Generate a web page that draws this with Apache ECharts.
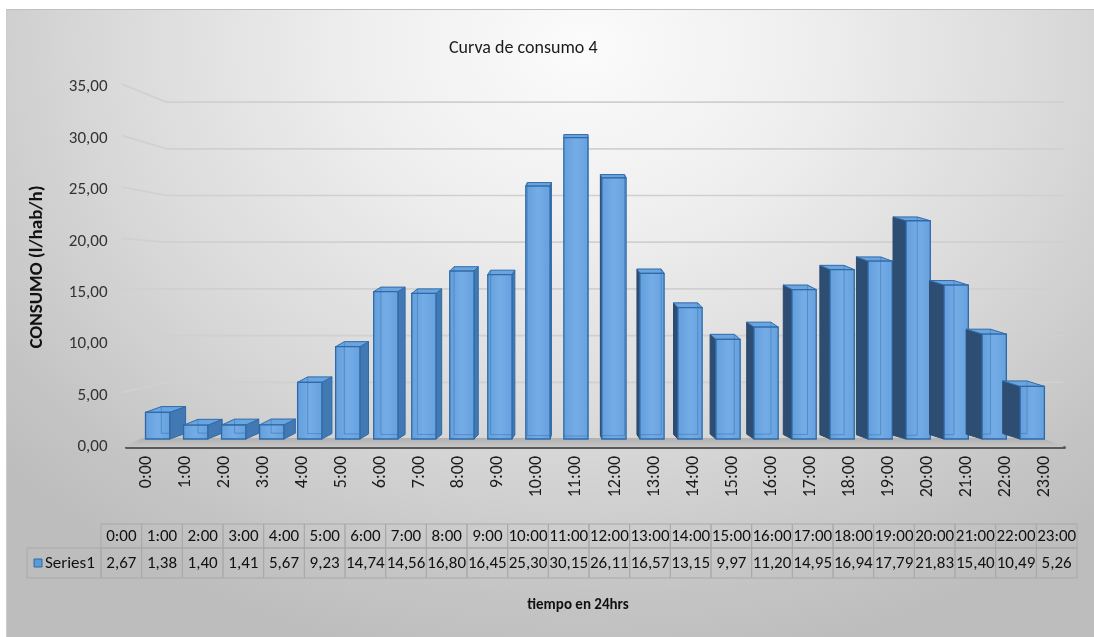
<!DOCTYPE html>
<html>
<head>
<meta charset="utf-8">
<script src="https://cdn.jsdelivr.net/npm/echarts@6/dist/echarts.min.js"></script>
<style>
  html, body { margin: 0; padding: 0; width: 1094px; height: 637px; background: #ffffff; overflow: hidden; }
  #bg { position: absolute; left: 6px; top: 9px; right: 0; bottom: 0;
        border-top: 1px solid #c0c0c0; border-left: 1px solid #cccccc;
        background: radial-gradient(ellipse 72% 100% at 53% 6%, #fbfbfb 0%, #efefef 28%, #dadada 60%, #c4c4c4 88%, #bdbdbd 100%); }
  #chart { position: absolute; left: 0; top: 0; width: 1094px; height: 637px; }
</style>
</head>
<body>
<div id="bg"></div>
<div id="chart"></div>
<script>
// ---- data ----
const categories = ['0:00','1:00','2:00','3:00','4:00','5:00','6:00','7:00','8:00','9:00','10:00','11:00',
                    '12:00','13:00','14:00','15:00','16:00','17:00','18:00','19:00','20:00','21:00','22:00','23:00'];
const values = [2.67,1.38,1.40,1.41,5.67,9.23,14.74,14.56,16.80,16.45,25.30,30.15,
                26.11,16.57,13.15,9.97,11.20,14.95,16.94,17.79,21.83,15.40,10.49,5.26];
const yTicks = [5,10,15,20,25,30,35];
const seriesName = 'Series1';
const titleText = 'Curva de consumo 4';
const yAxisName = 'CONSUMO (l/hab/h)';
const xAxisName = 'tiempo en 24hrs';

const FONT = 'Carlito, Lato, "Liberation Sans", sans-serif';
const fmt = v => v.toFixed(2).replace('.', ',');
const VX = 575; // perspective centre

function renderBar(params, api) {
  const i = api.value(0), v = api.value(1);
  const base = api.coord([i, 0]);
  const top = api.coord([i, v]);
  const band = api.size([1, 0])[0];
  const cx0 = base[0];
  const cx = cx0 + 0.027 * (VX - cx0);
  const w = band * 0.62;
  const x0 = cx - w / 2, x1 = cx + w / 2;
  const yB = base[1] - 8;
  const yT = yB - (base[1] - top[1]) * 0.972;
  const dx = 0.038 * (VX - cx);
  const dy = -(6 - 0.1 * v);
  const children = [];
  const edge = '#2f6aa8';
  if (dx > 0.5) {
    children.push({ type: 'polygon', shape: { points: [[x1, yT], [x1 + dx, yT + dy], [x1 + dx, yB + dy], [x1, yB]] },
      style: { fill: '#4379b2', stroke: edge, lineWidth: 1 } });
  } else if (dx < -0.5) {
    children.push({ type: 'polygon', shape: { points: [[x0, yT], [x0 + dx, yT + dy], [x0 + dx, yB + dy], [x0, yB]] },
      style: { fill: '#2d4d72', stroke: '#2b4a6c', lineWidth: 1 } });
  }
  children.push({ type: 'polygon', shape: { points: [[x0, yT], [x1, yT], [x1 + dx, yT + dy], [x0 + dx, yT + dy]] },
    style: { fill: '#6aa5e0', stroke: edge, lineWidth: 1 } });
  children.push({ type: 'rect', shape: { x: x0, y: yT, width: w, height: yB - yT },
    style: { fill: new echarts.graphic.LinearGradient(0, 0, 1, 0, [
        { offset: 0, color: '#639fdc' }, { offset: 0.5, color: '#74ace6' }, { offset: 1, color: '#66a1de' }]),
      stroke: edge, lineWidth: 1.3 } });
  const bx = dx > 0 ? x0 + dx : x1 + dx;
  children.push({ type: 'polyline', shape: { points: [[bx, yT + dy], [bx, yB + dy], [dx > 0 ? x1 : x0, yB + dy]] },
    style: { stroke: 'rgba(47,106,168,0.45)', lineWidth: 1, fill: null } });
  return { type: 'group', children };
}

function renderGrid(params, api) {
  const cs = params.coordSys;
  const v = api.value(1);
  const baseY = cs.y + cs.height;
  const fy = api.coord([0, v])[1];
  const by = baseY - 18 - (baseY - fy) * 0.908;
  return { type: 'polyline', shape: { points: [[cs.x - 5, fy - 3], [cs.x + 40, by], [cs.x + cs.width - 1, by]] },
    style: { stroke: '#d0d0d0', lineWidth: 1.7, fill: null } };
}

function renderFloor(params, api) {
  const cs = params.coordSys;
  const y = cs.y + cs.height;
  return { type: 'polygon', shape: { points: [[cs.x - 3, y], [cs.x + cs.width, y], [cs.x + cs.width - 22, y - 9], [cs.x + 16, y - 9]] },
    style: { fill: new echarts.graphic.LinearGradient(0, 0, 0, 1, [{ offset: 0, color: '#b0b0b0' }, { offset: 1, color: '#c6c6c6' }]) } };
}

const ROW1 = [524, 548], ROW2 = [548, 578];
function renderTable(params, api) {
  const i = api.value(0), v = api.value(1);
  const c = api.coord([i, 0])[0];
  const w = api.size([1, 0])[0];
  const xl = c - w / 2;
  const cellStyle = { fill: 'rgba(0,0,0,0)', stroke: '#a9a9a9', lineWidth: 1 };
  return { type: 'group', children: [
    { type: 'rect', shape: { x: xl, y: ROW1[0], width: w, height: ROW1[1] - ROW1[0] }, style: cellStyle },
    { type: 'rect', shape: { x: xl, y: ROW2[0], width: w, height: ROW2[1] - ROW2[0] }, style: cellStyle },
    { type: 'text', x: c, y: (ROW1[0] + ROW1[1]) / 2 + 1, style: { text: categories[i], align: 'center', verticalAlign: 'middle', font: '17px ' + FONT, fill: '#111' } },
    { type: 'text', x: c, y: (ROW2[0] + ROW2[1]) / 2 + 1, style: { text: fmt(v), align: 'center', verticalAlign: 'middle', font: '17px ' + FONT, fill: '#111' } }
  ] };
}

const chart = echarts.init(document.getElementById('chart'), null, { renderer: 'canvas' });
chart.setOption({
  animation: false,
  backgroundColor: 'transparent',
  title: { text: titleText, left: 444, top: 34, textStyle: { fontFamily: FONT, fontSize: 18, fontWeight: 'normal', color: '#1a1a1a' } },
  grid: [
    { left: 126.5, right: 29.5, top: 87, bottom: 190 },
    { left: 101, right: 17, top: 524, height: 54 }
  ],
  xAxis: [
    { type: 'category', data: categories, gridIndex: 0,
      axisLine: { lineStyle: { color: '#5a5a5a', width: 3 } }, axisTick: { show: false },
      axisLabel: { rotate: 90, margin: 9, fontFamily: FONT, fontSize: 18, color: '#1a1a1a' } },
    { type: 'category', data: categories, gridIndex: 1, show: false }
  ],
  yAxis: [
    { type: 'value', gridIndex: 0, min: 0, max: 35, interval: 5,
      name: yAxisName, nameLocation: 'middle', nameGap: 80, nameRotate: 90,
      nameTextStyle: { fontFamily: FONT, fontSize: 19, fontWeight: 'bold', color: '#111' },
      axisLine: { show: false }, axisTick: { show: false }, splitLine: { show: false },
      axisLabel: { margin: 19, formatter: v => fmt(v), fontFamily: FONT, fontSize: 17, color: '#333' } },
    { type: 'value', gridIndex: 1, min: 0, max: 1, show: false }
  ],
  series: [
    { type: 'custom', name: 'grid', xAxisIndex: 0, yAxisIndex: 0, z: 1, silent: true,
      data: yTicks.map(t => [0, t]), encode: { x: 0, y: 1 }, renderItem: renderGrid },
    { type: 'custom', name: 'floor', xAxisIndex: 0, yAxisIndex: 0, z: 2, silent: true,
      data: [[0, 0]], encode: { x: 0, y: 1 }, renderItem: renderFloor },
    { type: 'custom', name: seriesName, xAxisIndex: 0, yAxisIndex: 0, z: 3,
      data: values.map((v, i) => [i, v]), encode: { x: 0, y: 1 }, renderItem: renderBar },
    { type: 'custom', name: 'table', xAxisIndex: 1, yAxisIndex: 1, z: 3, silent: true,
      data: values.map((v, i) => [i, v]), encode: { x: 0, y: 1 }, renderItem: renderTable }
  ],
  graphic: [
    { type: 'rect', shape: { x: 27, y: 548, width: 74, height: 30 }, style: { fill: 'rgba(0,0,0,0)', stroke: '#a9a9a9', lineWidth: 1 } },
    { type: 'rect', shape: { x: 34, y: 559, width: 8, height: 8 }, style: { fill: '#5b9bd5', stroke: '#2f6aa8', lineWidth: 1 } },
    { type: 'text', x: 45, y: 564, style: { text: seriesName, align: 'left', verticalAlign: 'middle', font: '17px ' + FONT, fill: '#111' } },
    { type: 'text', x: 578, y: 605, style: { text: xAxisName, align: 'center', verticalAlign: 'middle', font: 'bold 15px ' + FONT, fill: '#111' } }
  ]
});
</script>
</body>
</html>
